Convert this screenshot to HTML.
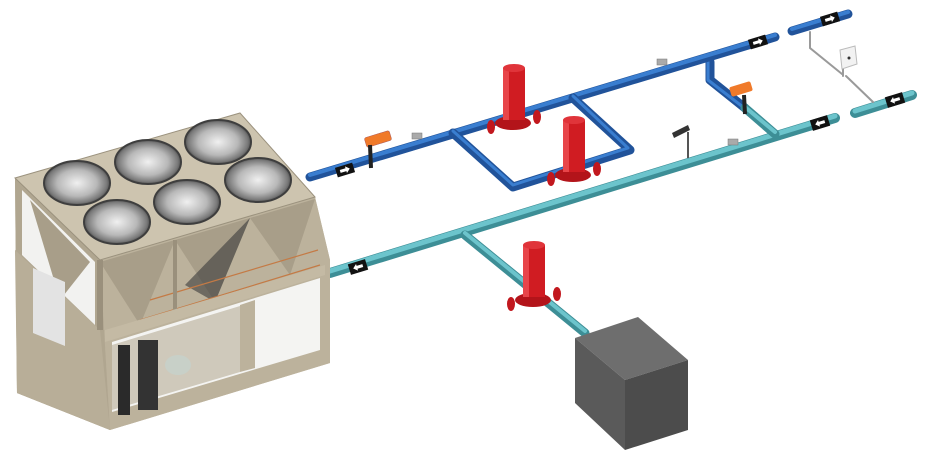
<!DOCTYPE html>
<html><head><meta charset="utf-8"><style>html,body{margin:0;padding:0;background:#fff}svg{display:block}</style></head>
<body>
<svg width="927" height="457" viewBox="0 0 927 457" xmlns="http://www.w3.org/2000/svg">
<defs>
<radialGradient id="fan" cx="50%" cy="50%" r="50%">
<stop offset="0" stop-color="#f0f0f0"/><stop offset="0.6" stop-color="#b8b8b8"/><stop offset="0.9" stop-color="#7a7a7a"/><stop offset="1" stop-color="#555"/>
</radialGradient>
</defs>

<g stroke-linecap="round" fill="none">
<path d="M330 273 L835 118" stroke="#3d8e96" stroke-width="10"/>
<path d="M330 271 L835 116" stroke="#6cc4cc" stroke-width="5"/>
<path d="M465 235 L585 333" stroke="#3d8e96" stroke-width="9"/>
<path d="M465 233 L585 331" stroke="#6cc4cc" stroke-width="4"/>
<path d="M710 62 L710 80 L745 108" stroke="#21539a" stroke-width="9" stroke-linejoin="round"/>
<path d="M708 62 L708 80 L743 107" stroke="#3a7ed0" stroke-width="3" stroke-linejoin="round"/>
<path d="M745 108 L775 134" stroke="#3d8e96" stroke-width="9"/>
<path d="M745 107 L775 132" stroke="#6cc4cc" stroke-width="4"/>
<path d="M310 177 L775 37" stroke="#21539a" stroke-width="9"/>
<path d="M310 175 L775 35" stroke="#3a7ed0" stroke-width="4"/>
<path d="M453 133 L513 187 L630 150 L573 98" stroke="#21539a" stroke-width="9" stroke-linejoin="round"/>
<path d="M453 131 L513 185 L628 148 L573 96" stroke="#3a7ed0" stroke-width="3" stroke-linejoin="round"/>
<path d="M792 31 L848 14" stroke="#21539a" stroke-width="9"/>
<path d="M792 29 L848 12" stroke="#3a7ed0" stroke-width="4"/>
<path d="M855 113 L912 95" stroke="#3d8e96" stroke-width="10"/>
<path d="M855 111 L912 93" stroke="#6cc4cc" stroke-width="5"/>
<path d="M810 32 L810 48 L842 74 M846 76 L873 102 M843 60 L843 76" stroke="#9a9a9a" stroke-width="2"/>
</g>
<polygon points="840,50 855,46 857,64 842,69" fill="#f2f2f2" stroke="#bbb"/>
<circle cx="849" cy="58" r="1.5" fill="#333"/>

<g>
<g transform="translate(345,170) rotate(-17)"><rect x="-9" y="-5" width="18" height="10" fill="#111"/><path d="M-5 -1.5 H1 V-3.5 L5 0 L1 3.5 V1.5 H-5Z" fill="#fff"/></g>
<g transform="translate(758,42) rotate(-17)"><rect x="-9" y="-5" width="18" height="10" fill="#111"/><path d="M-5 -1.5 H1 V-3.5 L5 0 L1 3.5 V1.5 H-5Z" fill="#fff"/></g>
<g transform="translate(830,19) rotate(-17)"><rect x="-9" y="-5" width="18" height="10" fill="#111"/><path d="M-5 -1.5 H1 V-3.5 L5 0 L1 3.5 V1.5 H-5Z" fill="#fff"/></g>
<g transform="translate(358,267) rotate(-17)"><rect x="-9" y="-5.5" width="18" height="11" fill="#111"/><path d="M5 -1.5 H-1 V-3.5 L-5 0 L-1 3.5 V1.5 H5Z" fill="#fff"/></g>
<g transform="translate(820,123) rotate(-17)"><rect x="-9" y="-5.5" width="18" height="11" fill="#111"/><path d="M5 -1.5 H-1 V-3.5 L-5 0 L-1 3.5 V1.5 H5Z" fill="#fff"/></g>
<g transform="translate(895,100) rotate(-17)"><rect x="-9" y="-5.5" width="18" height="11" fill="#111"/><path d="M5 -1.5 H-1 V-3.5 L-5 0 L-1 3.5 V1.5 H5Z" fill="#fff"/></g>
</g>

<rect x="657" y="59" width="10" height="6" fill="#aaa" stroke="#777" stroke-width=".5"/>
<rect x="412" y="133" width="10" height="6" fill="#aaa" stroke="#777" stroke-width=".5"/>
<rect x="728" y="139" width="10" height="6" fill="#aaa" stroke="#777" stroke-width=".5"/>
<path d="M672 133 L688 125 L690 130 L674 138Z" fill="#333"/><line x1="688" y1="132" x2="688" y2="158" stroke="#555" stroke-width="2"/>
<g transform="translate(378,139) rotate(-17)"><rect x="-13" y="-5" width="26" height="10" rx="2" fill="#f07a2a" stroke="#a55" stroke-width=".5"/></g>
<line x1="370" y1="145" x2="371" y2="168" stroke="#222" stroke-width="4"/>
<g transform="translate(741,89) rotate(-17)"><rect x="-11" y="-5" width="22" height="10" rx="2" fill="#f07a2a"/></g>
<line x1="744" y1="95" x2="745" y2="114" stroke="#222" stroke-width="4"/>

<g id="p">
<ellipse cx="513" cy="123" rx="18" ry="7" fill="#b3141a"/>
<rect x="503" y="68" width="22" height="52" fill="#d01c22"/>
<rect x="503" y="68" width="6" height="52" fill="#e8454a"/>
<ellipse cx="514" cy="68" rx="11" ry="4" fill="#e0343a"/>
<ellipse cx="491" cy="127" rx="4" ry="7" fill="#c2181e"/><ellipse cx="537" cy="117" rx="4" ry="7" fill="#c2181e"/>
</g>
<use href="#p" transform="translate(60,52)"/>
<use href="#p" transform="translate(20,177)"/>

<polygon points="575,338 638,317 688,360 625,380" fill="#6e6e6e"/>
<polygon points="575,338 625,380 625,450 575,403" fill="#5a5a5a"/>
<polygon points="625,380 688,360 688,430 625,450" fill="#4c4c4c"/>

<!-- chiller -->
<polygon points="17,393 110,430 330,363 330,260 315,197 100,260 15,178" fill="#c2b8a3"/>
<polygon points="100,260 315,197 330,260 330,363 110,430" fill="#bcb29c"/>
<polygon points="15,178 100,260 110,430 17,393" fill="#b0a690"/>
<polygon points="22,190 95,262 95,325 22,255" fill="#f2f2f0"/>
<polygon points="30,200 90,262 60,300" fill="#a89e89"/>
<polygon points="15,250 100,330 110,430 17,393" fill="#b8ae98"/>
<polygon points="33,268 65,282 65,346 33,333" fill="#e3e3e3"/>
<polygon points="15,178 240,113 315,197 100,260" fill="#cdc4af" stroke="#9b927e"/>
<polygon points="112,342 320,278 320,350 112,412" fill="#f4f4f2"/>
<polygon points="112,345 240,306 240,372 112,410" fill="#cfc9bb"/>
<polygon points="240,305 255,300 255,368 240,372" fill="#bcb29c"/>
<rect x="118" y="345" width="12" height="70" fill="#2a2a2a"/>
<rect x="138" y="340" width="20" height="70" fill="#333"/>
<ellipse cx="178" cy="365" rx="13" ry="10" fill="#c8d0c8"/>
<polygon points="100,262 175,240 140,325" fill="#a89e89"/>
<polygon points="175,240 250,218 215,302" fill="#a89e89"/>
<polygon points="250,218 315,199 290,275" fill="#a89e89"/>
<polygon points="185,285 250,218 215,302" fill="#3a3a3a" opacity=".6"/>
<path d="M140 320 L320 265 M150 300 L318 250" stroke="#c47a45" stroke-width="1.2" fill="none"/>
<line x1="100" y1="260" x2="100" y2="330" stroke="#9a907c" stroke-width="6"/>
<line x1="175" y1="240" x2="175" y2="310" stroke="#9a907c" stroke-width="4"/>
<polygon points="105,330 325,265 325,275 105,342" fill="#c4baa4"/>
<g fill="url(#fan)" stroke="#3e3e3e" stroke-width="2">
<ellipse cx="77" cy="183" rx="33" ry="22"/>
<ellipse cx="117" cy="222" rx="33" ry="22"/>
<ellipse cx="148" cy="162" rx="33" ry="22"/>
<ellipse cx="187" cy="202" rx="33" ry="22"/>
<ellipse cx="218" cy="142" rx="33" ry="22"/>
<ellipse cx="258" cy="180" rx="33" ry="22"/>
</g>
</svg>
</body></html>
